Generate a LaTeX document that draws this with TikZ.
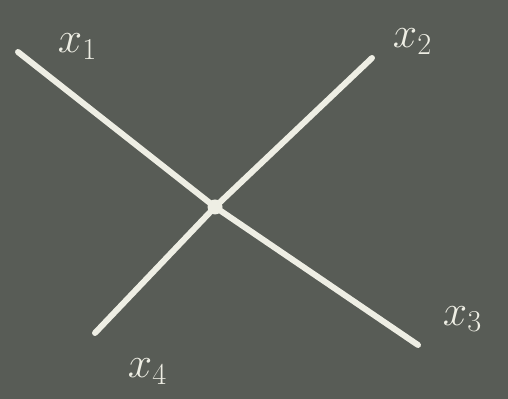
\documentclass[tikz,border=0pt]{standalone}
\usepackage{amsmath}
\usepackage{tikz}

\definecolor{board}{RGB}{88,92,86}
\definecolor{chalk}{RGB}{238,238,228}

\begin{document}
\begin{tikzpicture}
    \fill[board] (0,0) rectangle (10.16,7.98);
    \useasboundingbox (0,0) rectangle (10.16,7.98);
    \tikzset{stroke/.style={chalk, line width=3.4pt, line cap=round},
             lbl/.style={text=chalk, font=\fontsize{26}{28}\selectfont}}
    \node[circle, fill=chalk, inner sep=0pt, minimum size=0.3cm] (c) at (4.30,3.84) {};
    \coordinate (p1) at (0.36,6.94);
    \coordinate (p2) at (7.44,6.82);
    \coordinate (p3) at (8.36,1.08);
    \coordinate (p4) at (1.90,1.32);
    \draw[stroke] (p1) -- (c.center) -- (p3);
    \draw[stroke] (p2) -- (c.center) -- (p4);
    \node[lbl] (l1) at (1.55,7.05) {$x_1$};
    \node[lbl] (l2) at (8.25,7.15) {$x_2$};
    \node[lbl] (l3) at (9.25,1.60) {$x_3$};
    \node[lbl] (l4) at (2.95,0.55) {$x_4$};
\end{tikzpicture}
\end{document}
